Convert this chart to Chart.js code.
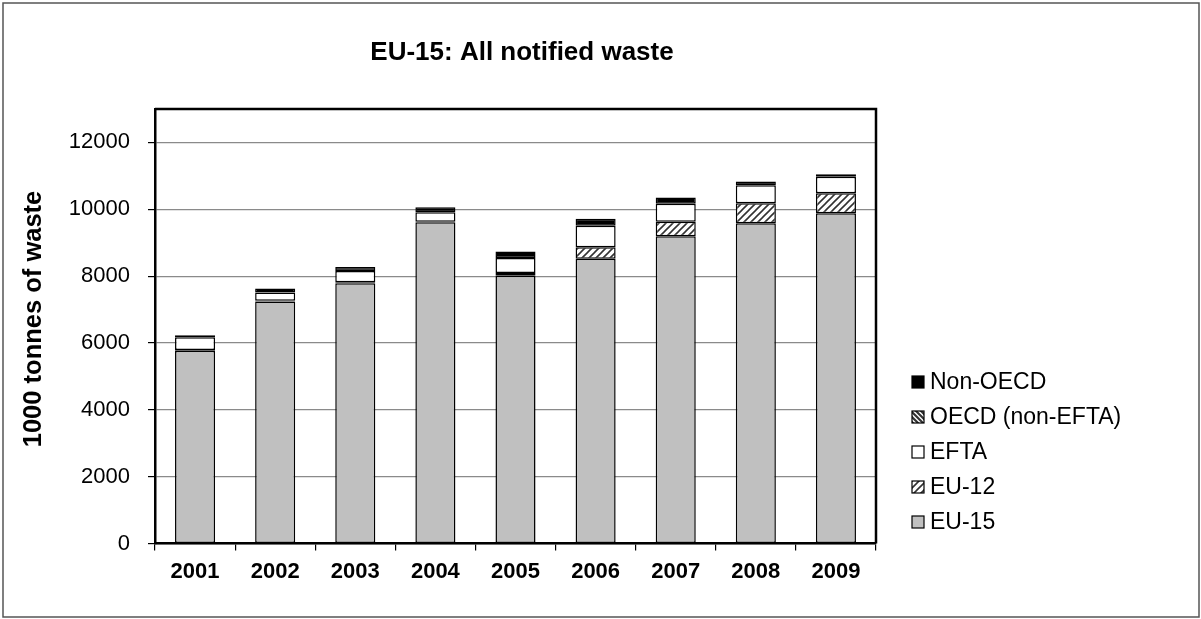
<!DOCTYPE html>
<html>
<head>
<meta charset="utf-8">
<title>EU-15: All notified waste</title>
<script src="https://cdn.jsdelivr.net/npm/chart.js@4.4.1/dist/chart.umd.min.js"></script>
<style>
  body { margin: 0; background: #fff; }
  canvas { display: block; }
</style>
</head>
<body>
<canvas id="chart" width="1201" height="619"></canvas>
<script>
const years = ['2001', '2002', '2003', '2004', '2005', '2006', '2007', '2008', '2009'];
const eu15 = [5770, 7240, 7790, 9610, 8010, 8520, 9190, 9580, 9880];
const eu12 = [20, 20, 30, 20, 80, 340, 440, 600, 600];
const efta = [380, 250, 330, 280, 455, 650, 535, 540, 490];
const oecdNonEfta = [0, 0, 0, 0, 0, 0, 0, 0, 0];
const nonOecd = [60, 120, 120, 150, 190, 210, 190, 110, 80];
const yTicks = [0, 2000, 4000, 6000, 8000, 10000, 12000];

const FONT = '"Liberation Sans", Arial, sans-serif';

// hatch fills, like the excel patterns
function hatch(dir, size, width) {
    const c = document.createElement('canvas');
    c.width = size;
    c.height = size;
    const g = c.getContext('2d');
    g.fillStyle = '#fff';
    g.fillRect(0, 0, size, size);
    g.strokeStyle = '#333';
    g.lineWidth = width;
    g.beginPath();
    if (dir == '/') {
        g.moveTo(-1, size + 1); g.lineTo(size + 1, -1);
        g.moveTo(-1, 1); g.lineTo(1, -1);
        g.moveTo(size - 1, size + 1); g.lineTo(size + 1, size - 1);
    } else {
        g.moveTo(-1, -1); g.lineTo(size + 1, size + 1);
        g.moveTo(size - 1, -1); g.lineTo(size + 1, 1);
        g.moveTo(-1, size - 1); g.lineTo(1, size + 1);
    }
    g.stroke();
    return g.createPattern(c, 'repeat');
}

const hatchEU12 = hatch('/', 7, 1.6);
const hatchOECD = hatch('\\', 5, 2.2);

const frame = {
    id: 'frame',
    afterDraw(chart) {
        const c = chart.ctx;
        const a = chart.chartArea;
        c.save();
        // outer border
        c.strokeStyle = '#555';
        c.lineWidth = 1.5;
        c.strokeRect(3, 3, 1196, 614);
        // top and right side of the plot box
        c.strokeStyle = '#000';
        c.lineWidth = 2.5;
        c.beginPath();
        c.moveTo(a.left, a.top);
        c.lineTo(a.right, a.top);
        c.lineTo(a.right, a.bottom);
        c.stroke();
        // title
        c.fillStyle = '#000';
        c.font = 'bold 26px ' + FONT;
        c.textAlign = 'center';
        c.textBaseline = 'middle';
        c.fillText('EU-15: All notified waste', 522, 53);
        // y axis title
        c.save();
        c.translate(34, 319);
        c.rotate(-Math.PI / 2);
        c.font = 'bold 25.5px ' + FONT;
        c.fillText('1000 tonnes of waste', 0, 0);
        c.restore();
        // legend, top item is the last dataset
        c.font = '23px ' + FONT;
        c.textAlign = 'left';
        const sets = chart.data.datasets.slice().reverse();
        sets.forEach(function (ds, i) {
            const y = 382 + i * 35;
            c.fillStyle = ds.backgroundColor;
            c.fillRect(912, y - 6, 12, 12);
            c.strokeStyle = '#000';
            c.lineWidth = 1.2;
            c.strokeRect(912, y - 6, 12, 12);
            c.fillStyle = '#000';
            c.fillText(ds.label, 930, y + 1);
        });
        c.restore();
    }
};

const ctx = document.getElementById('chart').getContext('2d');
const myChart = new Chart(ctx, {
    type: 'bar',
    data: {
        labels: years,
        datasets: [
            { label: 'EU-15', data: eu15, backgroundColor: '#c0c0c0' },
            { label: 'EU-12', data: eu12, backgroundColor: hatchEU12 },
            { label: 'EFTA', data: efta, backgroundColor: '#ffffff' },
            { label: 'OECD (non-EFTA)', data: oecdNonEfta, backgroundColor: hatchOECD },
            { label: 'Non-OECD', data: nonOecd, backgroundColor: '#000000' }
        ]
    },
    options: {
        responsive: false,
        animation: false,
        layout: {
            padding: { left: 0, top: 109, right: 325, bottom: 0 }
        },
        datasets: {
            bar: {
                borderColor: '#000',
                borderWidth: 1.5,
                borderSkipped: false,
                categoryPercentage: 0.5,
                barPercentage: 1
            }
        },
        plugins: {
            legend: { display: false },
            title: { display: false },
            tooltip: { enabled: false }
        },
        scales: {
            x: {
                stacked: true,
                afterFit: function (s) { s.height = 75.5; },
                grid: {
                    drawOnChartArea: false,
                    color: '#000',
                    tickLength: 7,
                    lineWidth: 1.2
                },
                border: { color: '#000', width: 2.5 },
                ticks: {
                    color: '#000',
                    padding: 8,
                    font: { family: FONT, size: 22, weight: 'bold' }
                }
            },
            y: {
                stacked: true,
                min: 0,
                max: 13000,
                afterFit: function (s) { s.width = 155; },
                afterBuildTicks: function (s) {
                    s.ticks = yTicks.map(function (v) { return { value: v }; });
                },
                grid: {
                    color: '#8a8a8a',
                    lineWidth: 1.2,
                    tickColor: '#000',
                    tickLength: 7
                },
                border: { color: '#000', width: 2.5 },
                ticks: {
                    color: '#000',
                    padding: 18,
                    font: { family: FONT, size: 22 },
                    callback: function (v) { return String(v); }
                }
            }
        }
    },
    plugins: [frame]
});
</script>
</body>
</html>
